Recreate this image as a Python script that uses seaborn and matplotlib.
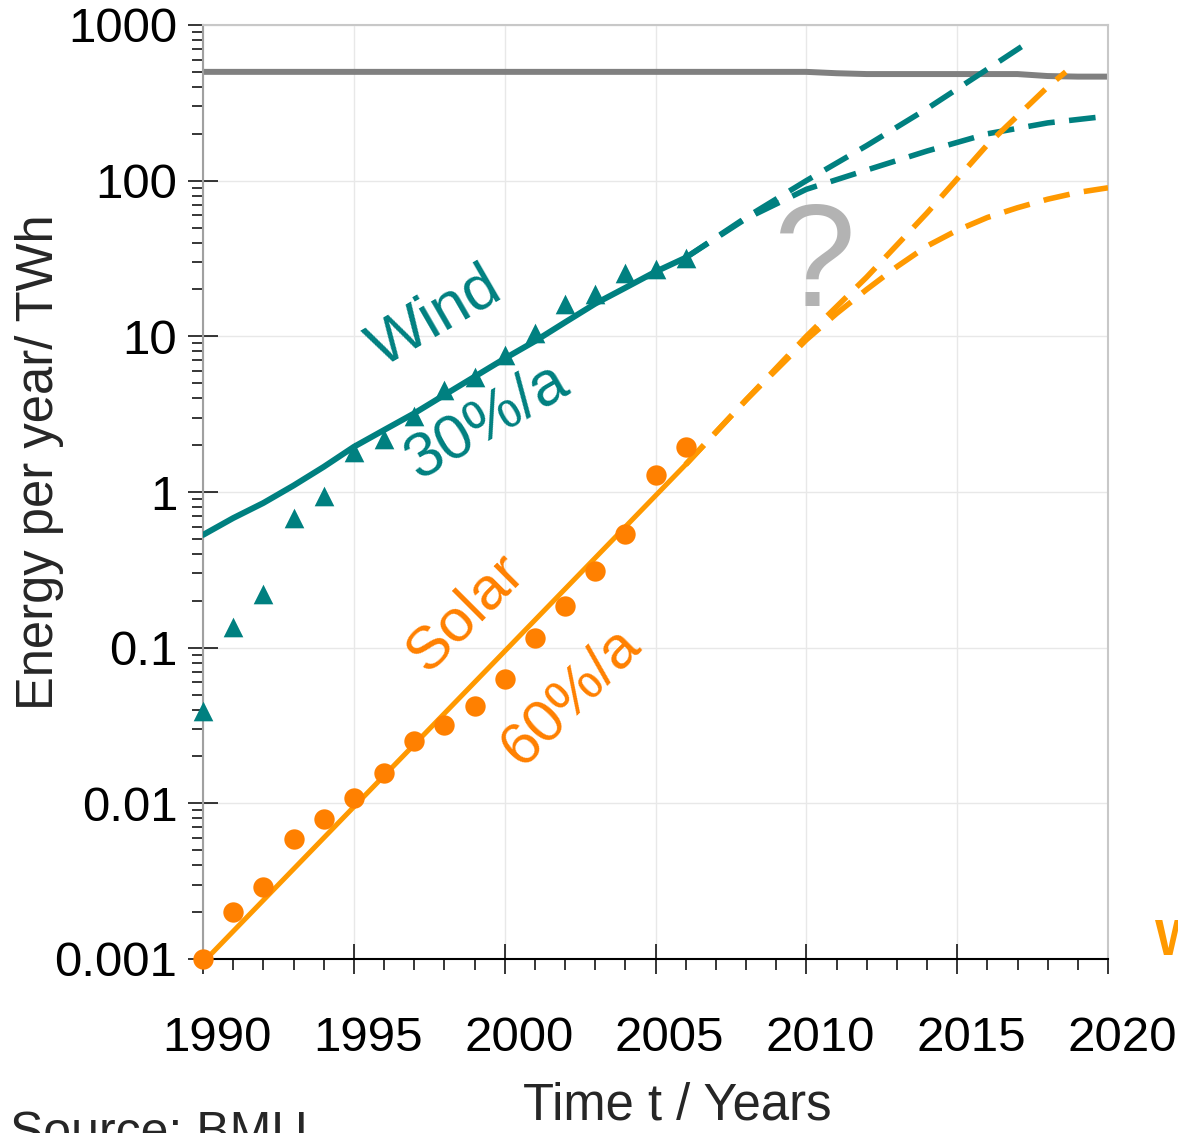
import numpy as np
import pandas as pd
import matplotlib
matplotlib.use("Agg")
import matplotlib.pyplot as plt
import matplotlib.transforms as mtransforms
from matplotlib.ticker import FixedLocator, FixedFormatter, MultipleLocator, LogLocator, NullFormatter
import seaborn as sns

years = list(range(1990, 2007))
wind_twh = [0.039, 0.136, 0.22, 0.68, 0.94, 1.8, 2.2, 3.06, 4.5, 5.5, 7.55, 10.5, 16.1, 18.6, 25.4, 27, 31.7]
solar_twh = [0.001, 0.002, 0.0029, 0.0059, 0.0079, 0.0108, 0.0157, 0.0252, 0.032, 0.042, 0.063, 0.116, 0.184, 0.31, 0.54, 1.28, 1.96]

# trend lines
wind_fit = [0.53, 0.68, 0.85, 1.1, 1.45, 1.95, 2.5, 3.2, 4.2, 5.5, 7.2, 9.3, 12.3, 16.2, 20.5, 26, 32]
solar_fit_years = [1990, 2006]
solar_fit = [0.00095, 1.5]

# scenarios (dashed)
wind_exp_years = [2006, 2008, 2010, 2012, 2014, 2016, 2017.2]
wind_exp = [32, 58, 100, 168, 290, 520, 740]
wind_sat_years = [2006, 2008, 2010, 2012, 2014, 2016, 2018, 2020]
wind_sat = [32, 57, 88, 117, 155, 200, 235, 260]
solar_exp_years = [2006, 2008, 2010, 2012, 2014, 2016, 2018, 2018.6]
solar_exp = [1.5, 3.9, 10, 24, 62, 170, 400, 500]
solar_sat_years = [2006, 2008, 2010, 2011, 2012, 2013, 2014, 2015, 2016, 2017, 2018, 2019, 2020]
solar_sat = [1.5, 3.9, 9.5, 14, 20, 28, 38, 48, 58, 67, 76, 84, 90]

# total electricity demand (grey)
total_years = [1990, 2010, 2011, 2012, 2017, 2018, 2019, 2020]
total_twh = [500, 500, 490, 484, 484, 470, 466, 466]

xticks = [1990, 1995, 2000, 2005, 2010, 2015, 2020]
yticks = [0.001, 0.01, 0.1, 1, 10, 100, 1000]
ytick_labels = ["0.001", "0.01", "0.1", "1", "10", "100", "1000"]

TEAL = "#008080"
ORANGE_DOT = "#ff8000"
ORANGE_LINE = "#ff9900"
GREY = "#808080"

sns.set_theme(style="white")
plt.rcParams['font.family'] = ['Liberation Sans', 'DejaVu Sans']

fig = plt.figure(figsize=(11.78, 11.33), dpi=100)
ax = fig.add_axes([203/1178, 1-959/1133, 905/1178, 934/1133])

dash = (0, (4.8, 2.6))
sns.lineplot(x=total_years, y=total_twh, color=GREY, lw=4.3, ax=ax, zorder=2)
sns.lineplot(x=years, y=wind_fit, color=TEAL, lw=4.3, ax=ax, zorder=3)
sns.lineplot(x=solar_fit_years, y=solar_fit, color=ORANGE_LINE, lw=3.6, ax=ax, zorder=3)
sns.lineplot(x=wind_exp_years, y=wind_exp, color=TEAL, lw=4, linestyle=dash, ax=ax, zorder=3)
sns.lineplot(x=wind_sat_years, y=wind_sat, color=TEAL, lw=4, linestyle=dash, ax=ax, zorder=3)
sns.lineplot(x=solar_exp_years, y=solar_exp, color=ORANGE_LINE, lw=4, linestyle=dash, ax=ax, zorder=3)
sns.lineplot(x=solar_sat_years, y=solar_sat, color=ORANGE_LINE, lw=4, linestyle=dash, ax=ax, zorder=3)

sns.scatterplot(x=years, y=wind_twh, marker="^", s=200, color=TEAL, linewidth=0, ax=ax, zorder=4, clip_on=False)
sns.scatterplot(x=years, y=solar_twh, marker="o", s=215, color=ORANGE_DOT, linewidth=0, ax=ax, zorder=4, clip_on=False)

ax.set_yscale('log')
ax.set_xlim(1990, 2020)
ax.set_ylim(0.001, 1000)

ax.xaxis.set_major_locator(FixedLocator(xticks))
ax.xaxis.set_major_formatter(FixedFormatter([str(x) for x in xticks]))
ax.xaxis.set_minor_locator(MultipleLocator(1))
ax.yaxis.set_major_locator(FixedLocator(yticks))
ax.yaxis.set_major_formatter(FixedFormatter(ytick_labels))
ax.yaxis.set_minor_locator(LogLocator(base=10, subs=np.arange(2, 10), numticks=20))
ax.yaxis.set_minor_formatter(NullFormatter())

ax.tick_params(which='major', direction='inout', length=22, width=1.1, color='black',
               labelsize=35.5, labelcolor='black')
ax.tick_params(axis='x', which='major', pad=30)
ax.tick_params(axis='y', which='major', pad=7.5)
ax.tick_params(which='minor', direction='out', length=8, width=1.1, color='black')
ax.tick_params(axis='x', which='both', bottom=True, top=False)
ax.tick_params(axis='y', which='both', left=True, right=False)

shift = mtransforms.ScaledTranslation(14/100, 0, fig.dpi_scale_trans)
for lab in ax.get_xticklabels():
    lab.set_transform(lab.get_transform() + shift)

ax.grid(True, which='major', color='#e8e8e8', lw=1.0)
ax.set_axisbelow(True)
ax.spines['left'].set_color('#a0a0a0')
ax.spines['top'].set_color('#c8c8c8')
ax.spines['right'].set_color('#c8c8c8')
ax.spines['bottom'].set_color('black')
for sp in ax.spines.values():
    sp.set_linewidth(1.5)
ax.set_xlabel("")
ax.set_ylabel("")

# annotations
ax.text(1997.7, 13.1, "Wind", color=TEAL, fontsize=45, rotation=30, ha='center', va='center')
ax.text(1999.4, 2.88, "30%/a", color=TEAL, fontsize=45, rotation=30, ha='center', va='center')
ax.text(1998.7, 0.168, "Solar", color=ORANGE_DOT, fontsize=43.5, rotation=45, ha='center', va='center')
ax.text(2002.2, 0.049, "60%/a", color=ORANGE_DOT, fontsize=43.5, rotation=45, ha='center', va='center')
ax.text(2010.3, 27.5, "?", color='#b3b3b3', fontsize=106, ha='center', va='center')

fig.text(40/1178, 1-462/1133, "Energy per year/ TWh", rotation=90, fontsize=36.5, ha='center', va='center')
fig.text(677/1178, 1-1106/1133, "Time t / Years", fontsize=36.5, ha='center', va='center')
fig.text(10/1178, 1-1147/1133, "Source: BMU", fontsize=36, ha='left', va='baseline')
fig.text(1155/1178, 1-955/1133, "W", fontsize=36, fontweight='bold', color=ORANGE_LINE, ha='left', va='baseline')

fig.savefig("out.png", dpi=100)
